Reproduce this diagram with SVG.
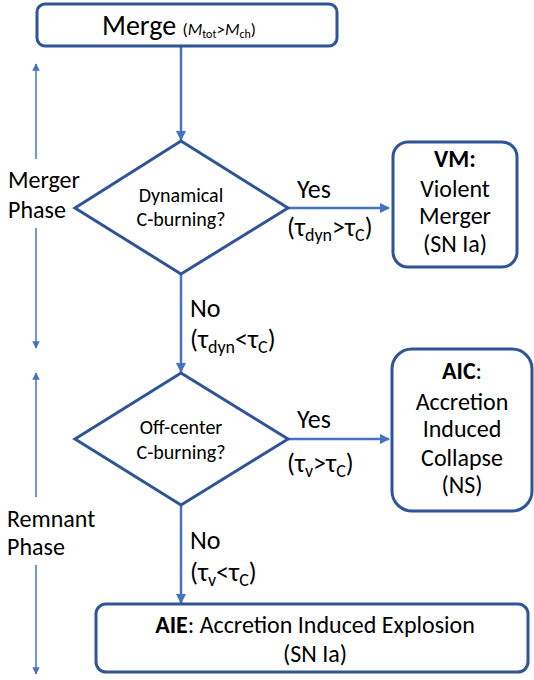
<svg xmlns="http://www.w3.org/2000/svg" width="534" height="680" viewBox="0 0 534 680">
<defs>
<marker id="ah" viewBox="0 0 10 10" refX="9" refY="5" markerWidth="4" markerHeight="4" orient="auto-start-reverse" markerUnits="strokeWidth">
<path d="M0,0 L10,5 L0,10 z" fill="#4472C4"/>
</marker>
<marker id="ah2" viewBox="0 0 10 10" refX="9" refY="5" markerWidth="5" markerHeight="5" orient="auto-start-reverse" markerUnits="strokeWidth">
<path d="M0,0 L10,5 L0,10 z" fill="#4472C4"/>
</marker>
<style>
text{font-family:Carlito,"Liberation Sans",Arial,sans-serif;fill:#000}
.box{fill:#fff;stroke:#2F5597;stroke-width:3}
.conn{stroke:#4472C4;stroke-width:2.5;fill:none}
.phase{stroke:#4472C4;stroke-width:1.5;fill:none}
.big{font-size:24px}
.lab{font-size:24px}
.yn{font-size:26px}
.q{font-size:20px}
.c{text-anchor:middle}
.b{font-weight:bold}
</style>
</defs>
<g id="connectors">
<line class="conn" x1="181" y1="47" x2="181" y2="140" marker-end="url(#ah)"/>
<line class="conn" x1="288" y1="208" x2="389" y2="208" marker-end="url(#ah)"/>
<line class="conn" x1="181" y1="274" x2="181" y2="372" marker-end="url(#ah)"/>
<line class="conn" x1="288" y1="439" x2="389" y2="439" marker-end="url(#ah)"/>
<line class="conn" x1="181" y1="505" x2="181" y2="603" marker-end="url(#ah)"/>
<line class="phase" x1="36" y1="159" x2="36" y2="64" marker-end="url(#ah2)"/>
<line class="phase" x1="36" y1="228" x2="36" y2="348" marker-end="url(#ah2)"/>
<line class="phase" x1="36" y1="497" x2="36" y2="373" marker-end="url(#ah2)"/>
<line class="phase" x1="36" y1="565" x2="36" y2="674" marker-end="url(#ah2)"/>
</g>
<g id="merge">
<rect class="box" x="37" y="4" width="300" height="42" rx="8"/>
<text x="102" y="35" font-size="28">Merge <tspan font-size="17">(<tspan font-style="italic">M</tspan><tspan font-size="12" dy="3">tot</tspan><tspan dy="-3">&gt;</tspan><tspan font-style="italic">M</tspan><tspan font-size="12" dy="3">ch</tspan><tspan dy="-3">)</tspan></tspan></text>
</g>
<g id="merger-phase">
<text class="big" x="8" y="188">Merger</text>
<text class="big" x="8" y="218">Phase</text>
</g>
<g id="remnant-phase">
<text class="big" x="7" y="527">Remnant</text>
<text class="big" x="7" y="555">Phase</text>
</g>
<g id="dyn-burn">
<polygon class="box" points="181,141 288,208 181,274 75,208"/>
<text class="q c" x="181" y="202">Dynamical</text>
<text class="q c" x="181" y="226">C-burning?</text>
</g>
<g id="yes1">
<text class="yn" x="297" y="198">Yes</text>
<text class="yn" x="287" y="236">(τ<tspan font-size="18" dy="5">dyn</tspan><tspan dy="-5">&gt;τ</tspan><tspan font-size="18" dy="5">C</tspan><tspan dy="-5">)</tspan></text>
</g>
<g id="no1">
<text class="yn" x="190" y="317">No</text>
<text class="yn" x="190" y="348">(τ<tspan font-size="18" dy="5">dyn</tspan><tspan dy="-5">&lt;τ</tspan><tspan font-size="18" dy="5">C</tspan><tspan dy="-5">)</tspan></text>
</g>
<g id="vm">
<rect class="box" x="393" y="142" width="124" height="125" rx="15"/>
<text class="lab c b" x="455" y="167">VM:</text>
<text class="lab c" x="455" y="197">Violent</text>
<text class="lab c" x="455" y="224">Merger</text>
<text class="lab c" x="455" y="252">(SN Ia)</text>
</g>
<g id="offcenter">
<polygon class="box" points="181,373 288,439 181,505 75,439"/>
<text class="q c" x="181" y="434">Off-center</text>
<text class="q c" x="181" y="459">C-burning?</text>
</g>
<g id="yes2">
<text class="yn" x="297" y="428">Yes</text>
<text class="yn" x="287" y="472">(τ<tspan font-size="18" dy="5">v</tspan><tspan dy="-5">&gt;τ</tspan><tspan font-size="18" dy="5">C</tspan><tspan dy="-5">)</tspan></text>
</g>
<g id="no2">
<text class="yn" x="190" y="549">No</text>
<text class="yn" x="190" y="581">(τ<tspan font-size="18" dy="5">v</tspan><tspan dy="-5">&lt;τ</tspan><tspan font-size="18" dy="5">C</tspan><tspan dy="-5">)</tspan></text>
</g>
<g id="aic">
<rect class="box" x="392" y="349" width="140" height="162" rx="20"/>
<text class="lab c" x="462" y="379"><tspan class="b">AIC</tspan>:</text>
<text class="lab c" x="462" y="410">Accretion</text>
<text class="lab c" x="462" y="437">Induced</text>
<text class="lab c" x="462" y="466">Collapse</text>
<text class="lab c" x="462" y="493">(NS)</text>
</g>
<g id="aie">
<rect class="box" x="96" y="604" width="432" height="68" rx="10"/>
<text class="lab c" x="315" y="633"><tspan class="b">AIE</tspan>: Accretion Induced Explosion</text>
<text class="lab c" x="315" y="662">(SN Ia)</text>
</g>
</svg>
